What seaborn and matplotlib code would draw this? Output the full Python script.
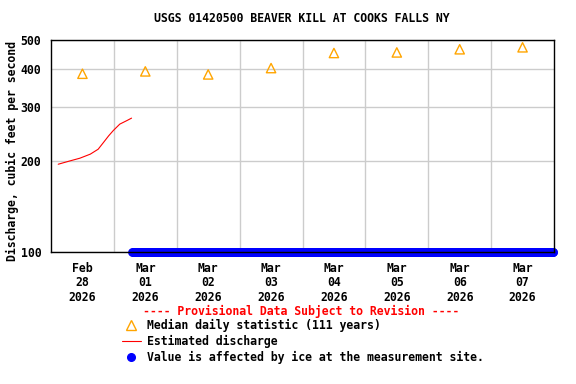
import matplotlib
matplotlib.use("Agg")
import matplotlib.pyplot as plt
from matplotlib.ticker import NullLocator
from matplotlib.lines import Line2D
import pandas as pd
import seaborn as sns

# ---- data ----
title = "USGS 01420500 BEAVER KILL AT COOKS FALLS NY"
ylabel = "Discharge, cubic feet per second"

median_days = ["2026-02-28", "2026-03-01", "2026-03-02", "2026-03-03",
               "2026-03-04", "2026-03-05", "2026-03-06", "2026-03-07"]
median_values = [387, 394, 385, 404, 453, 455, 466, 473]

est_times = ["2026-02-28 02:45", "2026-02-28 07:15", "2026-02-28 11:00",
             "2026-02-28 15:00", "2026-02-28 18:00", "2026-02-28 20:00",
             "2026-02-28 22:00", "2026-02-28 23:45", "2026-03-01 02:15",
             "2026-03-01 05:00", "2026-03-01 06:45"]
est_values = [194.7, 199.7, 203.8, 210.2, 218.2, 229.5, 241.5, 251.3,
              264.0, 271.3, 276.3]

ice_start = "2026-03-01 07:00"
ice_end = "2026-03-07 23:45"
ice_value = 100

yticks = [100, 200, 300, 400, 500]
xtick_labels = ["Feb\n28\n2026", "Mar\n01\n2026", "Mar\n02\n2026", "Mar\n03\n2026",
                "Mar\n04\n2026", "Mar\n05\n2026", "Mar\n06\n2026", "Mar\n07\n2026"]

legend_title = "---- Provisional Data Subject to Revision ----"
legend_labels = ["Median daily statistic (111 years)", "Estimated discharge",
                 "Value is affected by ice at the measurement site."]

# ---- frames ----
med_df = pd.DataFrame({"time": pd.to_datetime(median_days) + pd.Timedelta(hours=12),
                       "value": median_values})
est_df = pd.DataFrame({"time": pd.to_datetime(est_times), "value": est_values})
ice_times = pd.date_range(ice_start, ice_end, freq="15min")
ice_df = pd.DataFrame({"time": ice_times, "value": ice_value})

# ---- style ----
sns.set_style("white")
plt.rcParams["font.family"] = ["DejaVu Sans Mono", "DejaVu Sans"]
plt.rcParams["font.weight"] = "bold"
for k in ["text.color", "axes.labelcolor", "xtick.color", "ytick.color"]:
    plt.rcParams[k] = "black"
FS = 8.3

fig = plt.figure(figsize=(5.76, 3.84), dpi=100)
ax = fig.add_axes([51/576, 1-252/384, 503/576, 212/384])

orange = "#FFA500"
sns.scatterplot(data=ice_df, x="time", y="value", ax=ax, s=40, color="#0000FF",
                linewidth=0, clip_on=False, zorder=2)
sns.lineplot(data=est_df, x="time", y="value", ax=ax, color="#FF0000",
             linewidth=0.8, zorder=3)
sns.scatterplot(data=med_df, x="time", y="value", ax=ax, marker="^", s=45,
                facecolors="none", edgecolor=orange, linewidth=1.0, zorder=4)

ax.set_yscale("log")
ax.set_ylim(100, 500)
ax.set_yticks(yticks)
ax.set_yticklabels([str(v) for v in yticks])
ax.yaxis.set_minor_locator(NullLocator())

x0 = pd.Timestamp("2026-02-28")
x1 = pd.Timestamp("2026-03-08")
ax.set_xlim(x0, x1)
ax.set_xticks(med_df["time"])
ax.set_xticklabels(xtick_labels, linespacing=1.17)
ax.set_xticks(pd.date_range("2026-03-01", "2026-03-07", freq="D"), minor=True)

ax.grid(False)
ax.grid(True, which="minor", axis="x", color="#CCCCCC", linewidth=1.0)
ax.grid(True, which="major", axis="y", color="#CCCCCC", linewidth=1.0)
ax.set_axisbelow(True)

ax.tick_params(axis="both", which="both", length=0, labelsize=FS)
ax.tick_params(axis="x", pad=7)
ax.tick_params(axis="y", pad=7)
for lab in ax.get_xticklabels() + ax.get_yticklabels():
    lab.set_fontweight("bold")

for sp in ax.spines.values():
    sp.set_color("black")
    sp.set_linewidth(1.0)
    sp.set_zorder(5)

ax.set_xlabel("")
ax.set_ylabel(ylabel, fontsize=FS, fontweight="bold")
ax.yaxis.set_label_coords((12 - 51) / 503, 0.475)
ax.yaxis.label.set_va("center")

fig.text(302/576, 1-19/384, title, ha="center", va="center",
         fontsize=FS, fontweight="bold")
fig.text(301/576, 1-311/384, legend_title, ha="center", va="center",
         fontsize=FS, fontweight="bold", color="#FF0000")

h_med = Line2D([], [], marker="^", linestyle="none", markerfacecolor="none",
               markeredgecolor=orange, markersize=7, markeredgewidth=1.0)
h_est = Line2D([], [], color="#FF0000", linewidth=0.8)
h_ice = Line2D([], [], marker="o", linestyle="none", color="#0000FF",
               markersize=5.5)
leg = fig.legend([h_med, h_est, h_ice], legend_labels,
                 loc="upper center", bbox_to_anchor=(303/576, 1-318.5/384),
                 frameon=False, fontsize=FS,
                 handlelength=1.6, handletextpad=0.55, labelspacing=0.25,
                 borderpad=0, borderaxespad=0)
for t in leg.get_texts():
    t.set_fontweight("bold")

fig.savefig("out.png", dpi=100)
